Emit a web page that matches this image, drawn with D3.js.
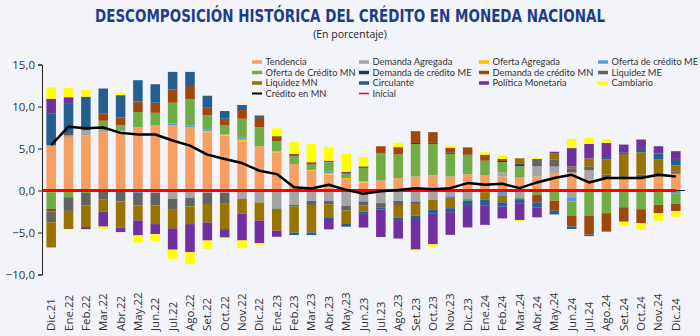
<!DOCTYPE html>
<html>
<head>
<meta charset="utf-8">
<script src="https://cdn.jsdelivr.net/npm/d3@7"></script>
<style>
  body { margin: 0; background: #F3F4F9; }
  svg { display: block; font-family: "Open Sans", "Noto Sans", sans-serif; }
</style>
</head>
<body>
<div id="chart"></div>
<script>
// Data //
var months = ["Dic.21","Ene.22","Feb.22","Mar.22","Abr.22","May.22","Jun.22","Jul.22","Ago.22","Set.22","Oct.22","Nov.22",
  "Dic.22","Ene.23","Feb.23","Mar.23","Abr.23","May.23","Jun.23","Jul.23","Ago.23","Set.23","Oct.23","Nov.23",
  "Dic.23","Ene.24","Feb.24","Mar.24","Abr.24","May.24","Jun.24","Jul.24","Ago.24","Set.24","Oct.24","Nov.24","Dic.24"];

var tendencia = [5.38,6.26,6.58,6.94,6.9,7.54,7.77,7.74,7.54,6.94,6.54,5.86,5.26,4.55,3.15,2.35,1.87,1.36,0.96,1.2,1.48,1.67,1.8,1.67,1.95,1.8,1.67,1.6,1.67,2.1,2.15,1.36,1.48,1.36,1.48,1.67,2.0];
var demandaAgregada = [-0.2,0.28,0.6,0.2,0.25,0,-0.3,-1.0,-0.9,-0.3,-0.3,-1.0,-1.43,-2.0,-1.7,-1.24,-1.24,-1.83,-1.3,-1.5,-1.24,-1.32,-1.1,-0.64,-1.04,-0.2,0.48,-0.8,1.2,0.75,-0.8,1.04,0,0,0,0,0];
var ofertaAgregada = [0,0,0,0,0,0,0,0,0,0.15,0.12,0.2,0,0.12,0,0.1,0.2,0.12,0.12,0,0,0,0,0,0,0,0,0,0,0,0,0,0,0,0,0,0];
var ofertaCreditoME = [0,0,0,0,0,-0.3,0,0.24,0.2,0.2,0,0.28,0,-0.16,0,0,0.16,0,0,0,0,0,0,-0.16,0,0,-0.64,-0.15,0,0,-0.52,0,0,0,0,0,-0.32];
var ofertaCreditoMN = [-2.0,-0.8,-0.3,1.16,0.6,1.8,1.48,2.47,3.1,1.67,1.08,2.2,2.27,1.2,0.92,0.64,1.12,0.52,1.6,3.27,2.8,3.87,3.75,2.7,2.3,1.75,1.24,1.3,-0.52,-1.2,-1.7,-3.0,-2.7,-2.0,-2.23,-1.72,-1.28];
var demandaCreditoME = [0,0,0,0,0,0,0,0,0,0,0,0,0,0,0,0,0,0,0,0,0,0.12,0.12,0.12,0,0,0.12,0.24,0,0,0,0,0,0,0,0,0];
var demandaCreditoMN = [-0.28,0.3,0.36,0.84,0.95,1.24,1.2,1.6,1.6,0.96,0.8,1.04,1.12,0.6,0.28,0.28,0.2,0,0.2,0.8,0.88,1.4,1.28,0.6,0.88,0.72,0.24,-0.16,-0.88,-1.2,-1.28,-2.23,-2.2,-1.72,-1.67,-1.0,-0.84];
var liquidezME = [-1.3,-1.63,-1.5,-1.1,-1.3,-1.5,-1.5,-1.3,-1.0,-1.3,-1.2,0,0,0,-0.2,-0.48,-0.4,-0.56,-0.48,-0.5,-0.6,-0.28,0,0,0,0,0,0,0.88,0.8,0.5,0.48,0.4,0.12,0.4,0.4,0.28];
var liquidezMN = [-3.0,-2.15,-2.55,-1.4,-3.1,-1.75,-2.2,-2.2,-2.1,-2.2,-3.1,-1.75,-2.15,-2.63,-3.1,-3.27,-1.55,-1.6,-0.72,0,-1.36,-1.4,-1.2,-1.3,-0.16,-0.9,-0.76,0.7,0,0.8,0.2,0.92,1.8,2.87,2.67,1.6,0.72];
var circulante = [3.75,3.47,3.63,3.0,2.65,2.55,2.2,2.07,1.68,1.36,0.92,0.6,0.28,0,-0.3,-0.32,-0.32,-0.32,-0.28,-0.24,-0.32,-0.4,-0.4,-0.48,-0.52,-0.72,-0.52,-0.4,-0.6,-0.45,-0.28,-0.2,0.2,0.2,0.4,0.72,0.76];
var politicaMonetaria = [1.8,0.8,-0.25,-1.8,-0.55,-1.8,-1.2,-2.55,-3.35,-2.15,-1.0,-3.2,-2.7,-0.72,0,0,-1.12,0.2,-1.63,-3.3,-2.2,-3.63,-3.7,-2.7,-2.67,-2.27,-1.4,-2.0,-1.2,0.16,2.2,1.75,1.8,0.92,1.12,0.88,0.92];
var cambiario = [1.36,1.08,0.8,-0.28,0.3,-0.84,-0.8,-1.08,-1.44,-1.0,-0.1,-0.9,-0.28,0.92,1.4,2.15,1.6,2.2,1.12,0,0.52,-0.12,-0.28,0.2,0,0.28,0.4,-0.1,0.1,0,1.1,0.72,0.44,-0.48,-0.8,-0.88,-0.68];
var creditoMN = [5.4,7.6,7.4,7.5,6.86,6.66,6.66,5.95,5.34,4.27,3.75,3.27,2.35,1.95,0.4,0.24,0.68,0.08,-0.4,-0.1,0.05,0.28,0.16,0.28,0.88,0.68,0.8,0.28,0.96,1.48,1.87,0.96,1.48,1.48,1.48,1.87,1.67];
var inicial = months.map(function() { return 0; });

var yTicks = [-10, -5, 0, 5, 10, 15];

var barSeries = [
  {name: "Tendencia", values: tendencia, color: "#F79E62"},
  {name: "Demanda Agregada", values: demandaAgregada, color: "#A5A5A5"},
  {name: "Oferta Agregada", values: ofertaAgregada, color: "#FFC000"},
  {name: "Oferta de crédito ME", values: ofertaCreditoME, color: "#5B9BD5"},
  {name: "Oferta de Crédito MN", values: ofertaCreditoMN, color: "#70AD47"},
  {name: "Demanda de crédito ME", values: demandaCreditoME, color: "#203864"},
  {name: "Demanda de crédito MN", values: demandaCreditoMN, color: "#9E480E"},
  {name: "Liquidez ME", values: liquidezME, color: "#636363"},
  {name: "Liquidez MN", values: liquidezMN, color: "#997300"},
  {name: "Circulante", values: circulante, color: "#255E91"},
  {name: "Política Monetaria", values: politicaMonetaria, color: "#7030A0"},
  {name: "Cambiario", values: cambiario, color: "#FFFF00"}
];

var svgWidth = 700;
var svgHeight = 336;

var svg = d3.select("#chart")
  .append("svg")
  .attr("width", svgWidth)
  .attr("height", svgHeight);

// Title //
svg.append("text")
  .attr("x", 350)
  .attr("y", 22)
  .attr("text-anchor", "middle")
  .attr("font-family", "'Liberation Sans Narrow', 'DejaVu Sans Condensed', sans-serif")
  .attr("font-weight", "bold")
  .attr("font-size", 17)
  .attr("fill", "#1F3C88")
  .attr("textLength", 510)
  .attr("lengthAdjust", "spacingAndGlyphs")
  .text("DESCOMPOSICIÓN HISTÓRICA DEL CRÉDITO EN MONEDA NACIONAL");

svg.append("text")
  .attr("x", 350)
  .attr("y", 38)
  .attr("text-anchor", "middle")
  .attr("font-size", 10.5)
  .attr("fill", "#222")
  .text("(En porcentaje)");

// Scales //
var xScale = d3.scaleBand()
  .domain(months)
  .range([42.5, 684.5])
  .paddingInner(0.45)
  .paddingOuter(0.225);

var yScale = d3.scaleLinear()
  .domain([-10, 15])
  .range([274.5, 64.5]);

// Stack //
var table = months.map(function(m, i) {
  var row = {month: m};
  barSeries.forEach(function(s) { row[s.name] = s.values[i]; });
  return row;
});

var stacked = d3.stack()
  .keys(barSeries.map(function(s) { return s.name; }))
  .offset(d3.stackOffsetDiverging)(table);

var barGroup = svg.append("g");
barGroup.selectAll("g")
  .data(stacked)
  .enter()
  .append("g")
  .attr("fill", function(d, i) { return barSeries[i].color; })
  .selectAll("rect")
  .data(function(d) { return d; })
  .enter()
  .append("rect")
  .attr("x", function(d) { return xScale(d.data.month); })
  .attr("width", xScale.bandwidth())
  .attr("y", function(d) { return yScale(Math.max(d[0], d[1])); })
  .attr("height", function(d) { return Math.abs(yScale(d[0]) - yScale(d[1])); });

// Axes //
var leftAxis = d3.axisLeft(yScale)
  .tickValues(yTicks)
  .tickSizeInner(4)
  .tickSizeOuter(4)
  .tickFormat(function(d) { return d3.format(".1f")(d).replace(".", ","); });

var yAxisG = svg.append("g")
  .attr("transform", "translate(42,0)")
  .call(leftAxis);
yAxisG.selectAll("text")
  .attr("font-size", 11.5)
  .attr("font-family", "'Open Sans', sans-serif")
  .attr("fill", "#333");
yAxisG.selectAll("path, line").attr("stroke", "#222");

// zero axis line
svg.append("line")
  .attr("x1", 42)
  .attr("x2", 685)
  .attr("y1", yScale(0))
  .attr("y2", yScale(0))
  .attr("stroke", "#222")
  .attr("stroke-width", 1);

// x labels (rotated) //
svg.append("g")
  .selectAll("text")
  .data(months)
  .enter()
  .append("text")
  .attr("transform", function(d) {
    return "translate(" + (xScale(d) + xScale.bandwidth() / 2 + 4) + ",331) rotate(-90)";
  })
  .attr("text-anchor", "start")
  .attr("font-size", 11.5)
  .attr("fill", "#333")
  .text(function(d) { return d; });

// Lines //
var center = function(i) { return xScale(months[i]) + xScale.bandwidth() / 2; };

var redLine = d3.line()
  .x(function(d, i) { return i === 0 ? xScale.range()[0] : center(i); })
  .y(function(d) { return yScale(d); });

svg.append("path")
  .datum(inicial)
  .attr("d", redLine)
  .attr("fill", "none")
  .attr("stroke", "#FF0000")
  .attr("stroke-width", 3);

var creditLine = d3.line()
  .x(function(d, i) { return center(i); })
  .y(function(d) { return yScale(d); });

svg.append("path")
  .datum(creditoMN)
  .attr("d", creditLine)
  .attr("fill", "none")
  .attr("stroke", "#000")
  .attr("stroke-width", 2.5)
  .attr("stroke-linejoin", "round");

// Legend //
var legendItems = barSeries.map(function(s) { return {name: s.name, color: s.color, h: 3.5}; });
legendItems.push({name: "Crédito en MN", color: "#000", h: 2});
legendItems.push({name: "Inicial", color: "#FF0000", h: 1.5});

var colX = [252, 359, 479, 598];
var rowY = [62, 72.5, 83, 93.5];

var legend = svg.append("g")
  .selectAll("g")
  .data(legendItems)
  .enter()
  .append("g")
  .attr("transform", function(d, i) {
    return "translate(" + colX[i % 4] + "," + rowY[Math.floor(i / 4)] + ")";
  });

legend.append("rect")
  .attr("x", 0)
  .attr("y", function(d) { return -d.h / 2; })
  .attr("width", 10)
  .attr("height", function(d) { return d.h; })
  .attr("fill", function(d) { return d.color; });

legend.append("text")
  .attr("x", 13.5)
  .attr("y", 3.3)
  .attr("font-family", "Lato, 'Open Sans', sans-serif")
  .attr("font-size", 9.3)
  .attr("fill", "#333")
  .text(function(d) { return d.name; });
</script>
</body>
</html>
